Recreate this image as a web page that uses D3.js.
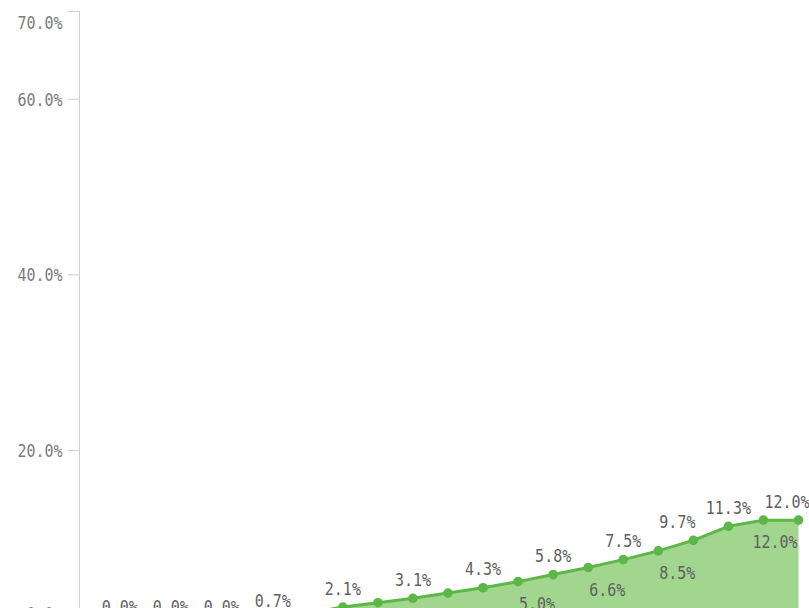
<!DOCTYPE html>
<html>
<head>
<meta charset="utf-8">
<script src="https://cdn.jsdelivr.net/npm/d3@7/dist/d3.min.js"></script>
<style>
  html, body { margin: 0; padding: 0; background: #fff; overflow: hidden; }
  svg { display: block; }
  .lbl { font-family: "DejaVu Sans Mono", monospace; font-size: 15px; }
</style>
</head>
<body>
<script>
// Periods along the (hidden) category axis
const periods = d3.range(1, 22).map(String);
// Share per period, in percent
const shares = [0.0, 0.0, 0.0, 0.0, 0.0, 0.7, 1.4, 2.1, 2.6, 3.1, 3.7,
                4.3, 5.0, 5.8, 6.6, 7.5, 8.5, 9.7, 11.3, 12.0, 12.0];
// Which side of the line each value label sits on
const labelSide = ["b", "b", "a", "a", "a", "a", "b", "a", "b", "a", "b",
                   "a", "b", "a", "b", "a", "b", "a", "a", "b", "a"];
// Y axis tick values (percent)
const yTicks = [0, 20, 40, 60, 70];

const W = 809, H = 608;
const plot = { left: 80, right: 816, top: 11, bottom: 625.5 };

const svg = d3.select("body").append("svg")
  .attr("width", W).attr("height", H);

const x = d3.scalePoint()
  .domain(periods)
  .range([plot.left, plot.right])
  .padding(0.5);

const y = d3.scaleLinear()
  .domain([0, 70])
  .range([plot.bottom, plot.top]);

const fmt = v => d3.format(".1f")(v) + "%";

// Y axis
const axisG = svg.append("g")
  .attr("transform", `translate(${plot.left - 0.5},0)`)
  .call(d3.axisLeft(y).tickValues(yTicks).tickSize(12).tickPadding(5).tickFormat(fmt));
axisG.select(".domain").attr("stroke", "#cfcfcf").attr("stroke-width", 1)
  .attr("d", `M0,${plot.top}V${H + 20}`);
axisG.selectAll(".tick line").attr("stroke", "#cfcfcf");
axisG.selectAll(".tick text").remove();
// Axis labels; end labels are pulled inside the axis range
axisG.selectAll(".tick").each(function (d) {
  const shift = d === 70 ? 11 : (d === 0 ? -12 : 0);
  d3.select(this).append("g")
    .attr("transform", `translate(-17,${shift})`)
    .append("text")
    .attr("class", "lbl")
    .attr("text-anchor", "end")
    .attr("dy", "0.36em")
    .attr("transform", "scale(1,1.2)")
    .attr("fill", "#7b7b7b")
    .text(fmt(d));
});

const data = periods.map((p, i) => ({ p, v: shares[i], side: labelSide[i] }));

// Area under the line
svg.append("path")
  .datum(data)
  .attr("fill", "#a2d68f")
  .attr("d", d3.area().x(d => x(d.p)).y0(y(0)).y1(d => y(d.v)));

// Line
svg.append("path")
  .datum(data)
  .attr("fill", "none")
  .attr("stroke", "#5db747")
  .attr("stroke-width", 3)
  .attr("stroke-linejoin", "round")
  .attr("d", d3.line().x(d => x(d.p)).y(d => y(d.v)));

// Points
svg.append("g").selectAll("circle")
  .data(data)
  .join("circle")
  .attr("cx", d => x(d.p))
  .attr("cy", d => y(d.v))
  .attr("r", 4.8)
  .attr("fill", "#5db747");

// Value label placement: above-line labels are spread apart from right to left,
// below-line labels sit to the right of their point.
const minGap = 51;
const aboveRight = 787, belowRight = 775;
data.forEach(d => { d.lx = x(d.p); });
let nextX = Infinity;
for (let i = data.length - 1; i >= 0; i--) {
  const d = data[i];
  if (d.side !== "a") continue;
  d.lx = Math.min(d.lx, aboveRight, nextX - minGap);
  nextX = d.lx;
}
data.forEach(d => {
  if (d.side === "b") d.lx = Math.min(d.lx + 19, belowRight);
  d.ly = y(d.v) + (d.side === "a" ? -19 : 21.5);
});

svg.append("g").selectAll("g")
  .data(data)
  .join("g")
  .attr("transform", d => `translate(${d.lx},${d.ly})`)
  .append("text")
  .attr("class", "lbl")
  .attr("text-anchor", "middle")
  .attr("dy", "0.36em")
  .attr("transform", "scale(1,1.2)")
  .attr("fill", "#5f5f5f")
  .text(d => fmt(d.v));
</script>
</body>
</html>
